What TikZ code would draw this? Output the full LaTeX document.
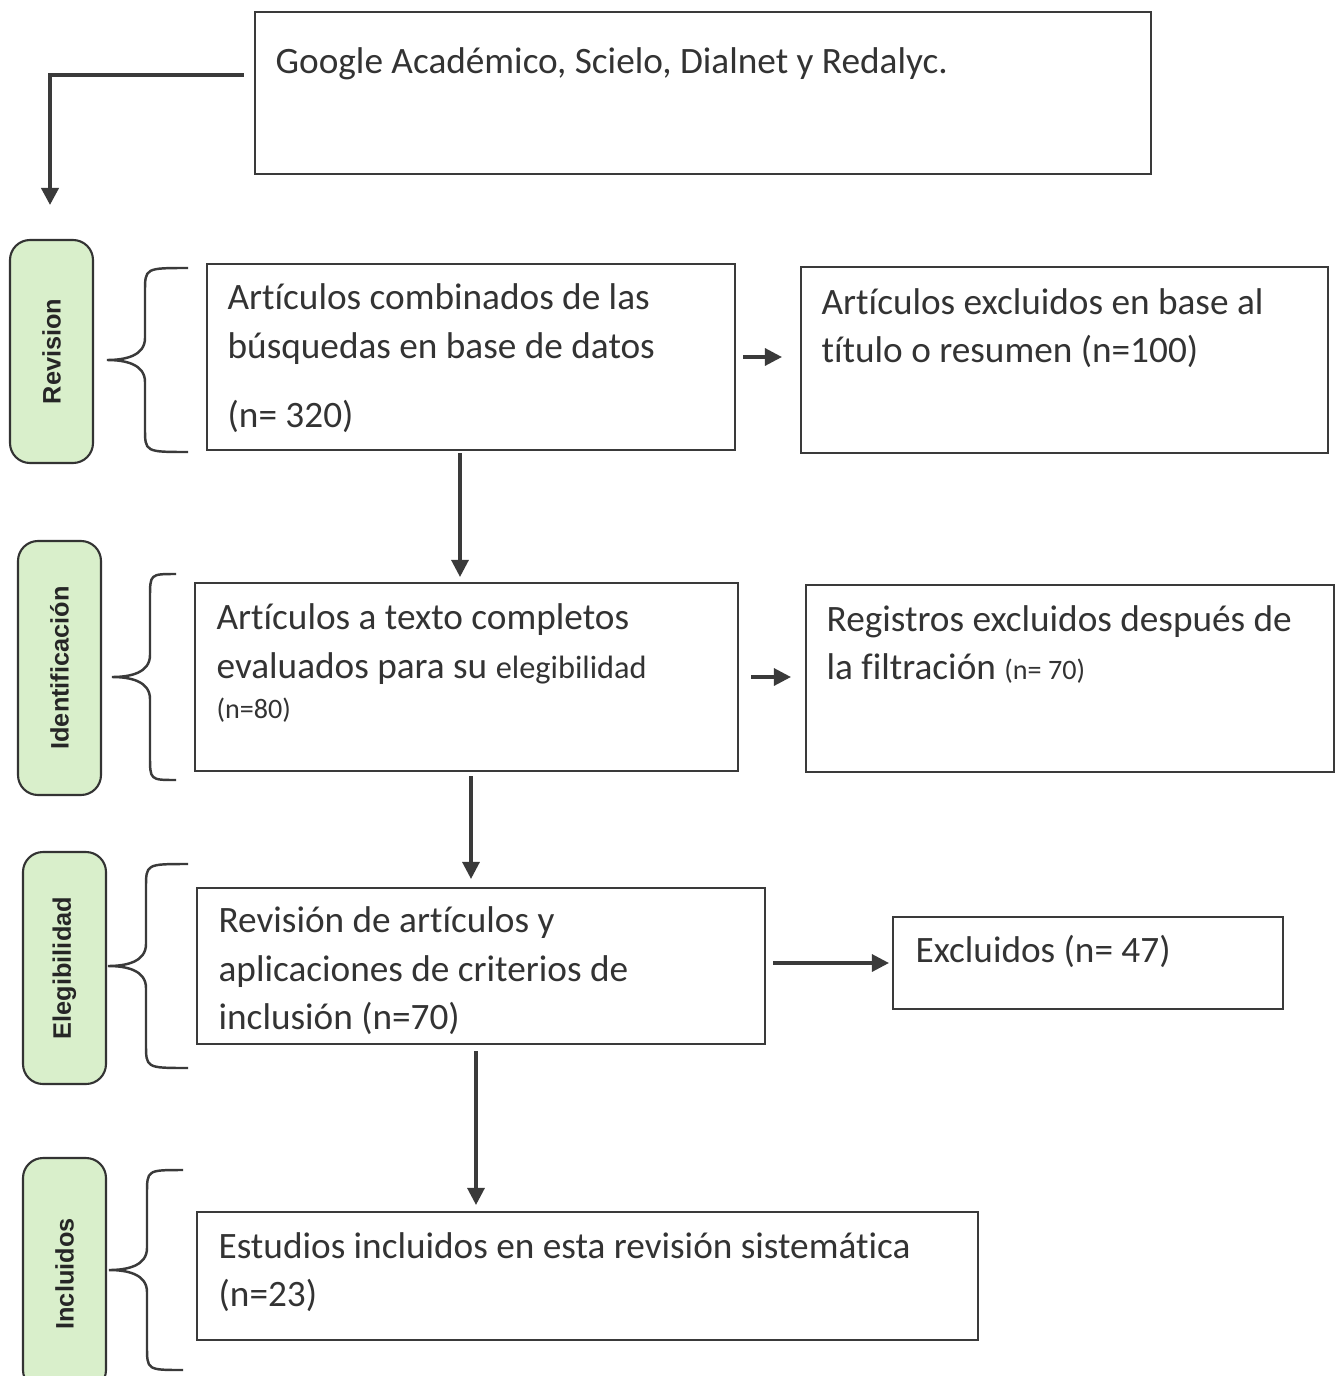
\documentclass[tikz,border=0pt]{standalone}
\usepackage{fontspec}
\setmainfont{Carlito}[Ligatures=NoCommon]
\newfontfamily\etiqfont{Liberation Sans}
\usetikzlibrary{positioning}
\usetikzlibrary{arrows.meta,calc}

\definecolor{verdeclaro}{HTML}{D9EFCB}
\definecolor{gristexto}{HTML}{333333}
\definecolor{grislinea}{HTML}{3A3A3A}

% llave: punta x, arriba y, abajo y, extremo x
\newcommand\llave[4]{%
  \draw[linea] (#4,#2) .. controls ({#1+38},#2) .. ({#1+38},{#2+24})
    -- ({#1+38},{(#2+#3)/2-22})
    .. controls ({#1+38},{(#2+#3)/2-4}) and ({#1+18},{(#2+#3)/2}) .. (#1,{(#2+#3)/2})
    .. controls ({#1+18},{(#2+#3)/2}) and ({#1+38},{(#2+#3)/2+4}) .. ({#1+38},{(#2+#3)/2+22})
    -- ({#1+38},{#3-24}) .. controls ({#1+38},#3) .. (#4,#3);
}

\begin{document}
\begin{tikzpicture}[x=0.1mm, y=-0.1mm,
  caja/.style={draw=grislinea, line width=0.6pt, inner sep=0pt},
  texto/.style={anchor=base west, align=left, inner sep=0pt, text=gristexto,
    font=\fontsize{10.6}{13.8}\selectfont},
  etiqueta/.style={draw=black!80, fill=verdeclaro, rounded corners=2mm, line width=0.6pt,
    rotate=90, minimum height=8.3mm, text=black!85, font=\etiqfont\bfseries\fontsize{7.2}{8}\selectfont},
  linea/.style={draw=grislinea, line width=0.7pt},
  flecha/.style={draw=grislinea, line width=0.9pt, -{Triangle[length=1.7mm,width=1.7mm]}}]

\useasboundingbox (0,0) rectangle (1337,1376);
\clip (0,0) rectangle (1337,1376);
\fill[white] (0,0) rectangle (1337,1376);

% fuentes
\node[caja, minimum width=89.6mm, minimum height=16.2mm] (fuentes) at (703,93) {};
\node[texto] (tfuentes) at ([shift={(21,63)}]fuentes.north west) {Google Académico, Scielo, Dialnet y Redalyc.};
\coordinate (inicio) at (50,205);

% etapas
\node[etiqueta, minimum width=22.3mm] (revision) at (51.5,351.5) {Revision};
\node[etiqueta, minimum width=25.4mm] (identificacion) at (59.5,668) {Identificación};
\node[etiqueta, minimum width=23.2mm] (elegibilidad) at (64.5,968) {Elegibilidad};
\node[etiqueta, minimum width=23.2mm] (incluidos) at (64.5,1274) {Incluidos};

\llave{107}{268}{452}{188}
\llave{112}{574}{780}{176}
\llave{108}{864}{1068}{188}
\llave{109}{1170}{1370}{183}

% cajas (la base del texto es la de su ultima linea)
\node[caja, minimum width=52.8mm, minimum height=18.6mm] (a1) at (471,357) {};
\node[texto] (ta1) at ([shift={(21,165)}]a1.north west)
  {Artículos combinados de las\\ búsquedas en base de datos\\[2.1mm] (n= 320)};

\node[caja, minimum width=52.7mm, minimum height=18.6mm] (b1) at (1064.5,360) {};
\node[texto] (tb1) at ([shift={(21,97)}]b1.north west)
  {Artículos excluidos en base al\\ título o resumen (n=100)};

\node[caja, minimum width=54.3mm, minimum height=18.8mm] (a2) at (466.5,677) {};
\node[texto] (ta2) at ([shift={(22,137)}]a2.north west)
  {Artículos a texto completos\\ evaluados para su {\fontsize{9.2}{13.8}\selectfont elegibilidad}\\[-0.8mm]
   {\fontsize{8}{13.8}\selectfont (n=80)}};

\node[caja, minimum width=52.8mm, minimum height=18.7mm] (b2) at (1070,678.5) {};
\node[texto] (tb2) at ([shift={(21,96)}]b2.north west)
  {Registros excluidos después de\\ la filtración {\fontsize{8}{13.8}\selectfont (n= 70)}};

\node[caja, minimum width=56.8mm, minimum height=15.6mm] (a3) at (481,966) {};
\node[texto] (ta3) at ([shift={(22,143)}]a3.north west)
  {Revisión de artículos y\\ aplicaciones de criterios de\\ inclusión (n=70)};

\node[caja, minimum width=39mm, minimum height=9.2mm] (b3) at (1088,963) {};
\node[texto] (tb3) at ([shift={(23,47)}]b3.north west) {Excluidos (n= 47)};

\node[caja, minimum width=78.1mm, minimum height=12.8mm] (a4) at (587.5,1276) {};
\node[texto] (ta4) at ([shift={(22,96)}]a4.north west)
  {Estudios incluidos en esta revisión sistemática\\ (n=23)};

% flechas
\draw[flecha, line width=1.1pt] ([xshift=-1mm,yshift=1.8mm]fuentes.west) -| (inicio);
\draw[flecha, shorten <=0.7mm, shorten >=1.8mm] (a1.east) -- (a1.east -| b1.west);
\draw[flecha, shorten <=1.2mm, shorten >=1.4mm] (a2.east) -- (a2.east -| b2.west);
\draw[flecha, shorten <=0.7mm, shorten >=0.3mm] (b3.west -| a3.east) -- (b3.west);
\draw[flecha, shorten <=0.2mm, shorten >=0.5mm] ([xshift=-1.1mm]a1.south) -- ([xshift=-1.1mm]a1.south |- a2.north);
\draw[flecha, shorten <=0.4mm, shorten >=0.8mm] ([xshift=0.45mm]a2.south) -- ([xshift=0.45mm]a2.south |- a3.north);
\draw[flecha, shorten <=0.6mm, shorten >=0.6mm] ([xshift=-0.5mm]a3.south) -- ([xshift=-0.5mm]a3.south |- a4.north);

\end{tikzpicture}
\end{document}
